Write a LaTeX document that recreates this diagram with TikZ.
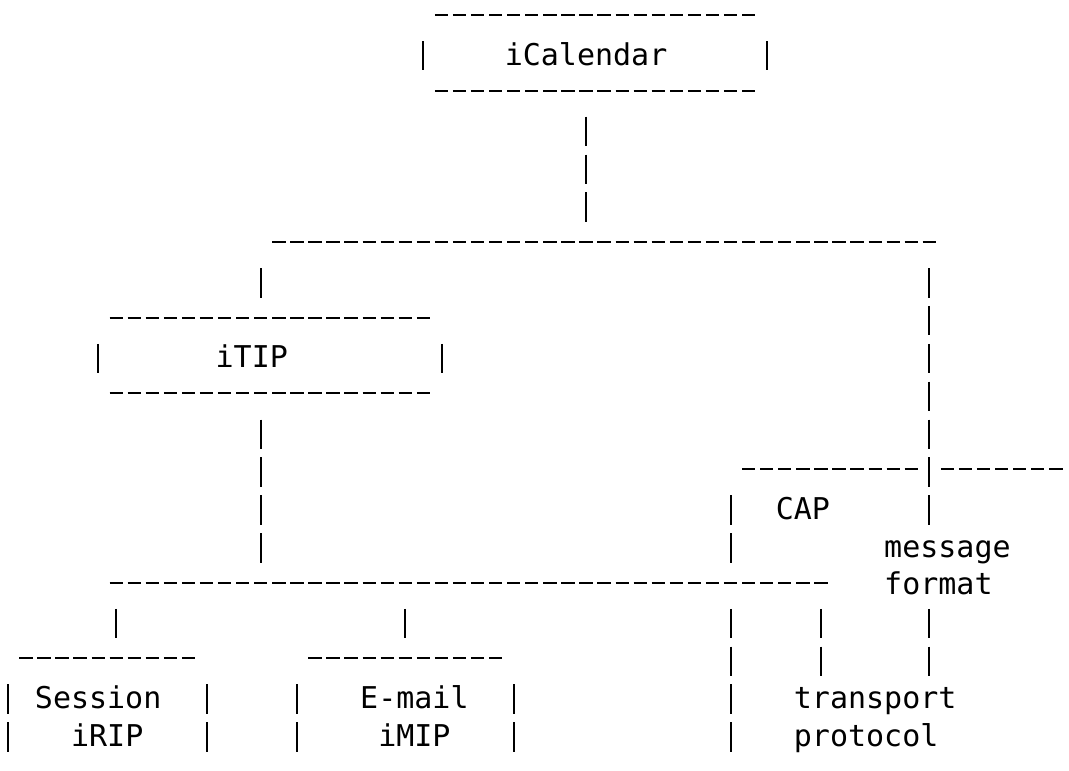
\documentclass[tikz,border=0pt]{standalone}
\usepackage{fontspec}
\newfontfamily\monoascii{DejaVu Sans Mono}

\begin{document}
\begin{tikzpicture}[x=18.07pt, y=-37.85pt,
    texto/.style={anchor=base west, inner sep=0pt, outer sep=0pt,
        font=\monoascii\fontsize{30pt}{36pt}\selectfont},
    guion/.style={line width=2pt, dash pattern=on 13.3pt off 4.77pt},
    barra/.style={line width=2pt, dash pattern=on 29.5pt off 8.35pt}]

    % Rejilla: una columna = 18.07pt, una fila = 37.85pt (y = linea base)
    \useasboundingbox (0.0664,0.2827) rectangle (59.225,20.626);

    % 1. Lineas de guiones (fila / primera columna / ultima columna)
    \foreach \f/\a/\b in {1/24/41, 3/24/41, 7/15/51, 9/6/23, 11/6/23,
                          13/41/50, 13/52/58, 16/6/45, 18/1/10, 18/17/27} {
        \draw[guion] (\a+0.13,\f-0.322) -- (\b+0.87,\f-0.322);
    }

    % 2. Barras verticales (columna / primera fila / ultima fila)
    \foreach \c/\a/\b in {23/2/2, 42/2/2, 32/4/6, 14/8/8, 14/12/15,
                          51/8/14, 51/17/18, 5/10/10, 24/10/10,
                          40/14/15, 40/17/20, 6/17/17, 22/17/17, 45/17/18,
                          0/19/20, 11/19/20, 16/19/20, 28/19/20} {
        \draw[barra] (\c+0.5,\a-0.634) -- (\c+0.5,\b+0.145);
    }

    % 3. Cajas superiores
    \node[texto] (ical) at (28,2) {iCalendar};
    \node[texto] (itip) at (12,10) {iTIP};

    % 4. Rama derecha: CAP y formato de mensaje
    \node[texto] (cap) at (43,14) {CAP};
    \node[texto] (mensaje) at (49,15) {message};
    \node[texto] (formato) at (49,16) {format};

    % 5. Cajas inferiores y transporte
    \node[texto] (sesion) at (2,19) {Session};
    \node[texto] (irip) at (4,20) {iRIP};
    \node[texto] (correo) at (20,19) {E-mail};
    \node[texto] (imip) at (21,20) {iMIP};
    \node[texto] (transporte) at (44,19) {transport};
    \node[texto] (protocolo) at (44,20) {protocol};

\end{tikzpicture}
\end{document}
